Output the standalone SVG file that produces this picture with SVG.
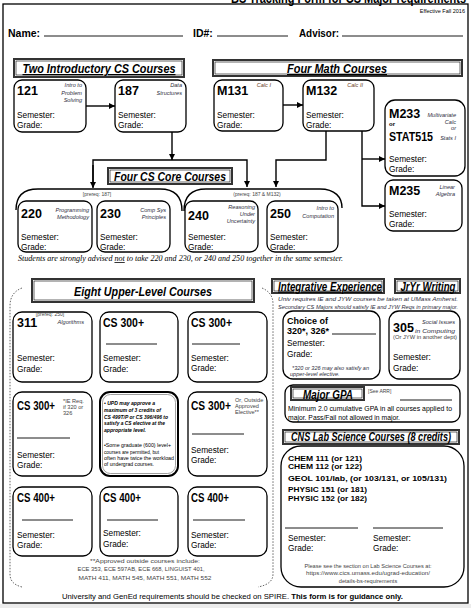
<svg xmlns="http://www.w3.org/2000/svg" width="471" height="608" viewBox="0 0 471 608">
<defs>
<style>
text{font-family:"Liberation Sans",Arial,sans-serif;fill:#000}
.b{font-weight:bold}
.num{font-weight:bold;font-size:12.5px}
.lbl{font-size:8.3px}
.d{font-style:italic;font-size:5.6px;fill:#2e2e3e}
.cal{font-style:italic;font-size:5.6px;fill:#6b3d24}
.hdr{font-weight:bold;font-style:italic;font-size:12px}
.u{text-decoration:underline}
.box{fill:#fff;stroke:#000;stroke-width:1.3}
.ho{fill:#fff;stroke:#333;stroke-width:2}
.hi{fill:none;stroke:#000;stroke-width:0.6}
.ln{stroke:#000;stroke-width:0.9}
.c{fill:none;stroke:#000;stroke-width:1.4}
.sm{font-size:5px;fill:#444}
.gry{font-size:5.6px;fill:#444}
.dash{fill:none;stroke:#555;stroke-width:0.9;stroke-dasharray:1.5 1.5}
</style>
<marker id="ah" viewBox="0 0 10 10" refX="10" refY="5" markerWidth="6" markerHeight="6" orient="auto" markerUnits="userSpaceOnUse"><path d="M0,0 L10,5 L0,10 z" fill="#000"/></marker>
</defs>
<rect x="0" y="0" width="471" height="608" fill="#fff"/>
<rect x="0" y="604" width="471" height="4" fill="#ececec"/>
<g id="frame">
<rect x="3" y="4" width="465" height="599" fill="none" stroke="#000" stroke-width="1.3"/>
<text x="466" y="2.5" class="b" font-size="15" text-anchor="end" textLength="235" lengthAdjust="spacingAndGlyphs">BS Tracking Form for CS Major requirements</text>
<text x="465" y="13" font-size="5.5" text-anchor="end" fill="#333">Effective Fall 2016</text>
<text x="8" y="37" class="b" font-size="10.5">Name:</text>
<line class="ln" x1="44" y1="36" x2="183" y2="36"/>
<text x="193" y="37" class="b" font-size="10.5">ID#:</text>
<line class="ln" x1="217" y1="36" x2="288" y2="36"/>
<text x="299" y="37" class="b" font-size="10.5" textLength="40" lengthAdjust="spacingAndGlyphs">Advisor:</text>
<line class="ln" x1="342" y1="36" x2="463" y2="36"/>
</g>

<g id="hdr-intro">
<rect class="ho" x="14" y="59" width="170" height="18"/><rect class="hi" x="16" y="61" width="166" height="14"/>
<text x="99" y="73" class="hdr u" text-anchor="middle" textLength="153" lengthAdjust="spacingAndGlyphs">Two Introductory CS Courses</text>
</g>
<g id="hdr-math">
<rect class="ho" x="213" y="60" width="249" height="16"/><rect class="hi" x="215" y="62" width="245" height="12"/>
<text x="337" y="73" class="hdr u" text-anchor="middle" textLength="100" lengthAdjust="spacingAndGlyphs">Four Math Courses</text>
</g>

<g id="c121">
<rect class="box" x="14" y="80" width="72" height="52" rx="8"/>
<text x="17" y="95" class="num">121</text>
<text x="82" y="87" class="d" text-anchor="end">Intro to</text>
<text x="82" y="95" class="d" text-anchor="end">Problem</text>
<text x="82" y="102" class="d" text-anchor="end">Solving</text>
<text x="17" y="118" class="lbl">Semester:</text>
<text x="17" y="128" class="lbl">Grade:</text>
</g>
<g id="c187">
<rect class="box" x="115" y="80" width="71" height="52" rx="8"/>
<text x="118" y="95" class="num">187</text>
<text x="182" y="87" class="d" text-anchor="end">Data</text>
<text x="182" y="95" class="d" text-anchor="end">Structures</text>
<text x="118" y="118" class="lbl">Semester:</text>
<text x="118" y="128" class="lbl">Grade:</text>
</g>
<g id="m131">
<rect class="box" x="214" y="80" width="69" height="51" rx="8"/>
<text x="217" y="95" class="num">M131</text>
<text x="271" y="87" class="cal" text-anchor="end">Calc I</text>
<text x="217" y="118" class="lbl">Semester:</text>
<text x="217" y="128" class="lbl">Grade:</text>
</g>
<g id="m132">
<rect class="box" x="303" y="80" width="71" height="51" rx="8"/>
<text x="306" y="95" class="num">M132</text>
<text x="363" y="87" class="cal" text-anchor="end">Calc II</text>
<text x="306" y="118" class="lbl">Semester:</text>
<text x="306" y="128" class="lbl">Grade:</text>
</g>
<g id="m233">
<rect class="box" x="385" y="100" width="80" height="76" rx="10"/>
<text x="389" y="118" class="num">M233</text>
<text x="456" y="117" class="d" text-anchor="end">Multivariate</text>
<text x="456" y="124" class="d" text-anchor="end">Calc</text>
<text x="456" y="130" class="d" text-anchor="end">or</text>
<text x="389" y="126" class="b" font-size="6">or</text>
<text x="389" y="141" class="num" textLength="44" lengthAdjust="spacingAndGlyphs">STAT515</text>
<text x="456" y="140" class="d" text-anchor="end">Stats I</text>
<text x="389" y="162" class="lbl">Semester:</text>
<text x="389" y="172" class="lbl">Grade:</text>
</g>
<g id="m235">
<rect class="box" x="385" y="180" width="77" height="51" rx="8"/>
<text x="389" y="195" class="num">M235</text>
<text x="455" y="189" class="d" text-anchor="end">Linear</text>
<text x="455" y="196" class="d" text-anchor="end">Algebra</text>
<text x="389" y="217" class="lbl">Semester:</text>
<text x="389" y="227" class="lbl">Grade:</text>
</g>

<g id="hdr-core">
<rect class="ho" x="108" y="168" width="124" height="16"/><rect class="hi" x="110" y="170" width="120" height="12"/>
<text x="170" y="181" class="hdr" text-anchor="middle" textLength="112" lengthAdjust="spacingAndGlyphs">Four CS Core Courses</text>
</g>

<g id="connectors">
<line class="c" x1="86" y1="106" x2="115" y2="106" marker-end="url(#ah)"/>
<line class="c" x1="283" y1="105" x2="303" y2="105" marker-end="url(#ah)"/>
<line class="c" x1="172" y1="132" x2="172" y2="160" marker-end="url(#ah)"/>
<polyline class="c" points="93,187 93,160 247,160 247,187" marker-end="url(#ah)"/>
<line class="c" x1="93" y1="165" x2="93" y2="188" marker-end="url(#ah)"/>
<polyline class="c" points="326,131 326,160 276,160 276,187" marker-end="url(#ah)"/>
<polyline class="c" points="362,131 362,206 385,206" marker-end="url(#ah)"/>
<line class="c" x1="362" y1="159" x2="385" y2="159" marker-end="url(#ah)"/>
<path class="c" d="M16,210 C16,197 22,189 38,189 L160,189 C176,189 182,198 182,211"/>
<path class="c" d="M184,211 C184,197 190,189 206,189 L320,189 C335,189 342,197 342,208"/>
</g>

<text x="97" y="196" class="sm" text-anchor="middle">[prereq: 187]</text>
<text x="257" y="196" class="sm" text-anchor="middle">(prereq: 187 &amp; M132)</text>

<g id="c220">
<rect class="box" x="18" y="201" width="74" height="51" rx="8"/>
<text x="21" y="218" class="num">220</text>
<text x="89" y="212" class="d" text-anchor="end">Programming</text>
<text x="89" y="219" class="d" text-anchor="end">Methodology</text>
<text x="21" y="240" class="lbl">Semester:</text>
<text x="21" y="250" class="lbl">Grade:</text>
</g>
<g id="c230">
<rect class="box" x="97" y="201" width="73" height="51" rx="8"/>
<text x="100" y="218" class="num">230</text>
<text x="166" y="212" class="d" text-anchor="end">Comp Sys</text>
<text x="166" y="219" class="d" text-anchor="end">Principles</text>
<text x="100" y="240" class="lbl">Semester:</text>
<text x="100" y="250" class="lbl">Grade:</text>
</g>
<g id="c240">
<rect class="box" x="185" y="201" width="73" height="51" rx="8"/>
<text x="188" y="220" class="num">240</text>
<text x="255" y="209" class="d" text-anchor="end">Reasoning</text>
<text x="255" y="216" class="d" text-anchor="end">Under</text>
<text x="255" y="223" class="d" text-anchor="end">Uncertainty</text>
<text x="188" y="240" class="lbl">Semester:</text>
<text x="188" y="250" class="lbl">Grade:</text>
</g>
<g id="c250">
<rect class="box" x="267" y="201" width="71" height="51" rx="8"/>
<text x="270" y="218" class="num">250</text>
<text x="334" y="210" class="d" text-anchor="end">Intro to</text>
<text x="334" y="218" class="d" text-anchor="end">Computation</text>
<text x="270" y="240" class="lbl">Semester:</text>
<text x="270" y="250" class="lbl">Grade:</text>
</g>
<text x="18" y="261" style="font-family:'Liberation Serif',serif" font-style="italic" font-size="7.8" textLength="325" lengthAdjust="spacingAndGlyphs">Students are strongly advised <tspan text-decoration="underline">not</tspan> to take 220 and 230, or 240 and 250 together in the same semester.</text>

<g id="upper-bracket">
<path class="dash" d="M22,288 C14,291 10,297 10,306 L10,574 C10,581 14,585 22,587"/>
<path class="dash" d="M262,288 C269,291 273,296 273,304 L273,574 C273,581 268,585 258,587"/>
</g>
<g id="hdr-upper">
<rect class="ho" x="32" y="279" width="222" height="23"/><rect class="hi" x="34" y="281" width="218" height="19"/>
<text x="143" y="296" class="hdr" text-anchor="middle" textLength="138" lengthAdjust="spacingAndGlyphs">Eight Upper-Level Courses</text>
</g>

<g id="c311">
<rect class="box" x="13" y="312" width="79" height="70" rx="9"/>
<text x="50" y="316" class="sm" text-anchor="middle" fill="#666">[prereq: 250]</text>
<text x="17" y="327" class="num">311</text>
<text x="84" y="324" class="d" text-anchor="end">Algorithms</text>
<text x="17" y="361" class="lbl">Semester:</text>
<text x="17" y="372" class="lbl">Grade:</text>
</g>
<g id="e1">
<rect class="box" x="100" y="312" width="78" height="70" rx="9"/>
<text x="103" y="327" class="num" font-size="12" textLength="41" lengthAdjust="spacingAndGlyphs">CS 300+</text>
<line class="ln" x1="106" y1="344" x2="157" y2="344"/>
<text x="103" y="361" class="lbl">Semester:</text>
<text x="103" y="372" class="lbl">Grade:</text>
</g>
<g id="e2">
<rect class="box" x="188" y="312" width="79" height="70" rx="9"/>
<text x="191" y="327" class="num" font-size="12" textLength="41" lengthAdjust="spacingAndGlyphs">CS 300+</text>
<line class="ln" x1="192" y1="344" x2="240" y2="344"/>
<text x="191" y="361" class="lbl">Semester:</text>
<text x="191" y="371" class="lbl">Grade:</text>
</g>
<g id="e3">
<rect class="box" x="13" y="392" width="79" height="84" rx="9"/>
<text x="17" y="410" class="num" font-size="12" textLength="38" lengthAdjust="spacingAndGlyphs">CS 300+</text>
<text x="63" y="403" class="gry" font-size="4.8">*IE Req.</text>
<text x="63" y="409" class="gry" font-size="4.8">if 320 or</text>
<text x="63" y="415" class="gry" font-size="4.8">326</text>
<line class="ln" x1="17" y1="438" x2="70" y2="438"/>
<text x="17" y="458" class="lbl">Semester:</text>
<text x="17" y="468" class="lbl">Grade:</text>
</g>
<g id="note">
<rect x="100" y="392" width="78" height="84" rx="10" fill="#fff" stroke="#000" stroke-width="2"/>
<rect x="102.5" y="394.5" width="73" height="79" rx="8" fill="none" stroke="#777" stroke-width="0.7"/>
<g font-size="5" font-weight="bold" font-style="italic">
<text x="104" y="405" textLength="51" lengthAdjust="spacingAndGlyphs">• UPD may approve a</text>
<text x="104" y="412" textLength="57" lengthAdjust="spacingAndGlyphs">maximum of 3 credits of</text>
<text x="104" y="419" textLength="64" lengthAdjust="spacingAndGlyphs">CS 499T/P or CS 396/496 to</text>
<text x="104" y="425" textLength="61" lengthAdjust="spacingAndGlyphs">satisfy a CS elective at the</text>
<text x="104" y="432" textLength="42" lengthAdjust="spacingAndGlyphs">appropriate level.</text>
</g>
<g font-size="5" fill="#444">
<text x="104" y="447" fill="#444" textLength="67" lengthAdjust="spacingAndGlyphs">•Some graduate (600) level+</text>
<text x="104" y="454" fill="#444" textLength="55" lengthAdjust="spacingAndGlyphs">courses are permitted, but</text>
<text x="104" y="460" fill="#444" textLength="70" lengthAdjust="spacingAndGlyphs">often have twice the workload</text>
<text x="104" y="466" fill="#444" textLength="50" lengthAdjust="spacingAndGlyphs">of undergrad courses.</text>
</g>
</g>
<g id="e4">
<rect class="box" x="188" y="392" width="79" height="84" rx="9"/>
<text x="191" y="410" class="num" font-size="12" textLength="40" lengthAdjust="spacingAndGlyphs">CS 300+</text>
<text x="235" y="402" class="gry" font-size="4.8">Or, Outside</text>
<text x="235" y="408" class="gry" font-size="4.8">Approved</text>
<text x="235" y="414" class="gry" font-size="4.8">Elective**</text>
<line class="ln" x1="192" y1="434" x2="244" y2="434"/>
<text x="191" y="453" class="lbl">Semester:</text>
<text x="191" y="463" class="lbl">Grade:</text>
</g>
<g id="e5">
<rect class="box" x="13" y="487" width="79" height="69" rx="9"/>
<text x="17" y="502" class="num" font-size="12" textLength="38" lengthAdjust="spacingAndGlyphs">CS 400+</text>
<line class="ln" x1="22" y1="520" x2="73" y2="520"/>
<text x="17" y="538" class="lbl">Semester:</text>
<text x="17" y="548" class="lbl">Grade:</text>
</g>
<g id="e6">
<rect class="box" x="100" y="487" width="78" height="69" rx="9"/>
<text x="103" y="502" class="num" font-size="12" textLength="38" lengthAdjust="spacingAndGlyphs">CS 400+</text>
<line class="ln" x1="107" y1="520" x2="158" y2="520"/>
<text x="103" y="536" class="lbl">Semester:</text>
<text x="103" y="547" class="lbl">Grade:</text>
</g>
<g id="e7">
<rect class="box" x="188" y="487" width="79" height="69" rx="9"/>
<text x="191" y="502" class="num" font-size="12" textLength="38" lengthAdjust="spacingAndGlyphs">CS 400+</text>
<line class="ln" x1="193" y1="520" x2="245" y2="520"/>
<text x="191" y="538" class="lbl">Semester:</text>
<text x="191" y="548" class="lbl">Grade:</text>
</g>
<g id="approved-note">
<text x="145" y="563" class="gry" font-size="5.5" text-anchor="middle" textLength="110" lengthAdjust="spacingAndGlyphs">**Approved outside courses include:</text>
<text x="141" y="571" class="gry" font-size="5.5" text-anchor="middle" textLength="127" lengthAdjust="spacingAndGlyphs">ECE 353, ECE 597AB, ECE 668, LINGUIST 401,</text>
<text x="145" y="580" class="gry" font-size="5.5" text-anchor="middle" textLength="133" lengthAdjust="spacingAndGlyphs">MATH 411, MATH 545, MATH 551, MATH 552</text>
</g>

<g id="hdr-ie">
<rect class="ho" x="272" y="279" width="112" height="14"/><rect class="hi" x="274" y="281" width="108" height="10"/>
<text x="330" y="290.5" class="hdr u" font-size="10.5" text-anchor="middle" textLength="104" lengthAdjust="spacingAndGlyphs">Integrative Experience</text>
</g>
<g id="hdr-jyw">
<rect class="ho" x="395" y="279" width="65" height="14"/><rect class="hi" x="397" y="281" width="61" height="10"/>
<text x="428" y="290.5" class="hdr u" font-size="10.5" text-anchor="middle" textLength="55" lengthAdjust="spacingAndGlyphs">JrYr Writing</text>
</g>
<text x="278" y="301" class="d" font-size="5.5" textLength="180" lengthAdjust="spacingAndGlyphs">Univ requires IE and JYW courses be taken at UMass Amherst.</text>
<text x="278" y="309" class="d" font-size="5.5" textLength="180" lengthAdjust="spacingAndGlyphs">Secondary CS Majors should satisfy IE and JYW Reqs in primary major.</text>

<g id="ie-box">
<rect class="box" x="283" y="311" width="97" height="68" rx="10"/>
<text x="287" y="324" class="b" font-size="9">Choice of</text>
<text x="287" y="334" class="b" font-size="9">320*, 326*</text>
<line class="ln" x1="332" y1="334" x2="376" y2="334"/>
<text x="287" y="346" class="lbl">Semester:</text>
<text x="287" y="357" class="lbl">Grade:</text>
<text x="292" y="370" class="d" font-size="5.3" textLength="77" lengthAdjust="spacingAndGlyphs">*320 or 326 may also satisfy an</text>
<text x="290" y="376" class="d" font-size="5.3">upper-level elective.</text>
</g>
<g id="c305">
<rect class="box" x="389" y="311" width="71" height="68" rx="10"/>
<text x="393" y="332" class="num" font-size="13.5">305</text>
<text x="455" y="324" class="d" font-size="6" text-anchor="end">Social Issues</text>
<text x="455" y="333" class="d" font-size="6.8" text-anchor="end" textLength="40" lengthAdjust="spacingAndGlyphs">in Computing</text>
<text x="393" y="339" class="sm" textLength="64" lengthAdjust="spacingAndGlyphs">(Or JYW in another dept)</text>
<text x="393" y="360" class="lbl">Semester:</text>
<text x="393" y="371" class="lbl">Grade:</text>
</g>

<g id="gpa">
<rect class="box" x="285" y="385" width="175" height="37" rx="8"/>
<rect class="ho" x="291" y="387" width="73" height="13"/><rect class="hi" x="293" y="389" width="69" height="9"/>
<text x="328" y="398.5" class="hdr" font-size="10" text-anchor="middle" textLength="50" lengthAdjust="spacingAndGlyphs">Major GPA</text>
<text x="368" y="393" class="sm">[See ARR]</text>
<line class="ln" x1="400" y1="400" x2="452" y2="400"/>
<text x="288" y="411" font-size="7" fill="#222" textLength="164" lengthAdjust="spacingAndGlyphs">Minimum 2.0 cumulative GPA in all courses applied to</text>
<text x="288" y="420" font-size="7" fill="#222" textLength="112" lengthAdjust="spacingAndGlyphs">major.  Pass/Fail not allowed in major.</text>
</g>

<g id="hdr-cns">
<rect class="ho" x="283" y="430" width="176" height="14"/><rect class="hi" x="285" y="432" width="172" height="10"/>
<text x="371" y="441" class="hdr" font-size="10" text-anchor="middle" textLength="160" lengthAdjust="spacingAndGlyphs">CNS Lab Science Courses (8 credits)</text>
</g>
<g id="cns">
<rect class="box" x="281" y="446" width="183" height="141" rx="20"/>
<text x="288" y="461" class="b" font-size="8" textLength="74" lengthAdjust="spacingAndGlyphs">CHEM 111 (or 121)</text>
<text x="288" y="469" class="b" font-size="8" textLength="74" lengthAdjust="spacingAndGlyphs">CHEM 112 (or 122)</text>
<text x="288" y="481" class="b" font-size="8" textLength="159" lengthAdjust="spacingAndGlyphs">GEOL 101/lab, (or 103/131, or 105/131)</text>
<text x="288" y="491.5" class="b" font-size="8" textLength="79" lengthAdjust="spacingAndGlyphs">PHYSIC 151 (or 181)</text>
<text x="288" y="501" class="b" font-size="8" textLength="79" lengthAdjust="spacingAndGlyphs">PHYSIC 152 (or 182)</text>
<line class="ln" x1="285" y1="528" x2="358" y2="528"/>
<line class="ln" x1="373" y1="528" x2="443" y2="528"/>
<text x="288" y="541" class="lbl">Semester:</text>
<text x="288" y="551" class="lbl">Grade:</text>
<text x="373" y="541" class="lbl">Semester:</text>
<text x="373" y="551" class="lbl">Grade:</text>
<text x="368" y="568" class="gry" font-size="5.3" text-anchor="middle" textLength="127" lengthAdjust="spacingAndGlyphs">Please see the section on Lab Science Courses at:</text>
<text x="368" y="575" class="gry" font-size="5.3" text-anchor="middle" textLength="124" lengthAdjust="spacingAndGlyphs">https://www.cics.umass.edu/ugrad-education/</text>
<text x="368" y="583" class="gry" font-size="5.3" text-anchor="middle">details-bs-requirements</text>
</g>

<text x="62" y="599" font-size="8" textLength="341" lengthAdjust="spacingAndGlyphs">University and GenEd requirements should be checked on SPIRE. <tspan font-weight="bold">This form is for guidance only.</tspan></text>
</svg>
